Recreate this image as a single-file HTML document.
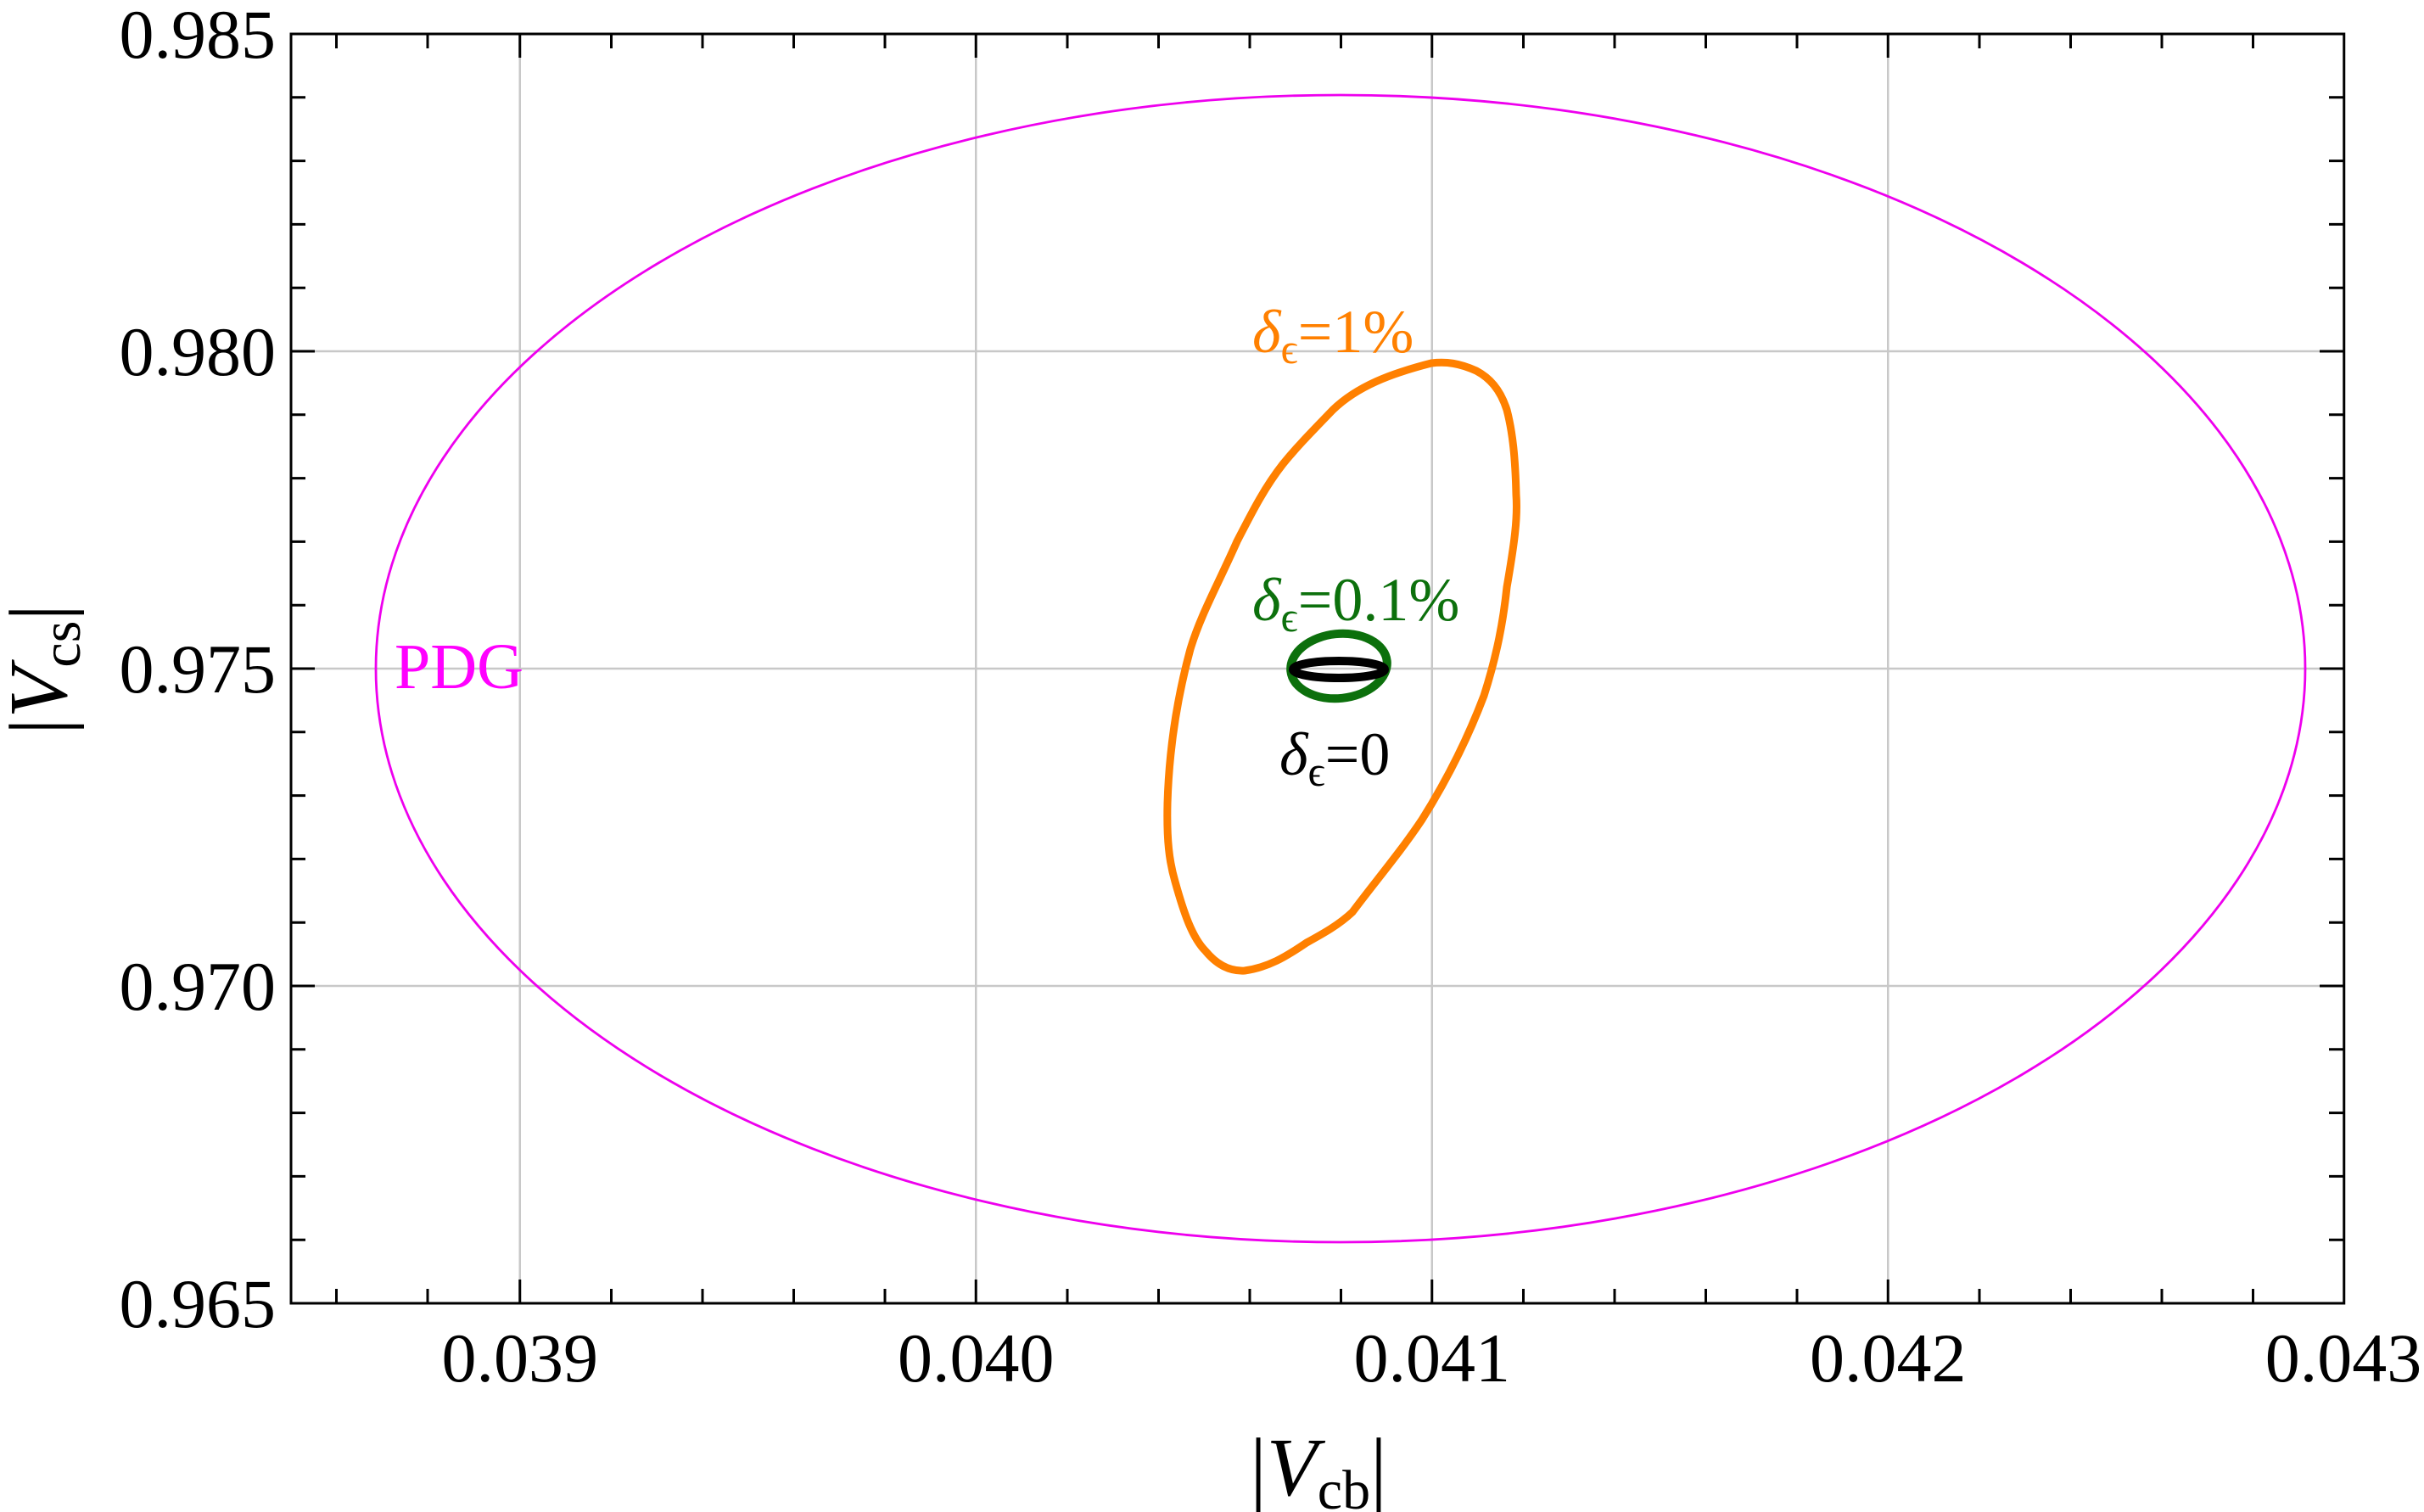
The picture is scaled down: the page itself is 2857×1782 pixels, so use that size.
<!DOCTYPE html>
<html><head><meta charset="utf-8"><style>
html,body{margin:0;padding:0;background:#fff;}
svg{display:block;}
text{font-family:"Liberation Serif",serif;}
</style></head><body>
<svg width="2857" height="1782" viewBox="0 0 2857 1782" xmlns="http://www.w3.org/2000/svg">
<rect width="2857" height="1782" fill="#fff"/>
<g stroke="#c8c8c8" stroke-width="2.5">
<path d="M612.75 40V1536M1150.25 40V1536M1687.75 40V1536M2225.25 40V1536"/>
<path d="M343 414H2762M343 788H2762M343 1162H2762"/>
</g>
<ellipse cx="1580" cy="788" rx="1137" ry="676" fill="none" stroke="#ee00ee" stroke-width="2.8"/>
<path d="M1687 428 C1640 440 1600 455 1571 483 C1545 510 1530 525 1512 547 C1490 575 1475 605 1458 638 C1435 690 1415 725 1403 765 C1388 820 1378 880 1376 947 C1375 990 1378 1015 1385 1039 C1395 1075 1405 1105 1421 1121 C1435 1138 1450 1145 1467 1144 C1495 1140 1515 1128 1540 1111 C1560 1100 1578 1090 1594 1075 C1620 1040 1650 1005 1676 966 C1705 920 1730 870 1749 820 C1765 770 1772 730 1776 692 C1785 640 1789 610 1787 583 C1786 540 1783 510 1776 483 C1768 458 1755 445 1740 437 C1720 428 1705 426 1687 428 Z" fill="none" stroke="#ff8000" stroke-width="9"/>
<ellipse cx="1578" cy="785" rx="57" ry="38" fill="none" stroke="#0c700c" stroke-width="10" transform="rotate(-6 1578 785)"/>
<ellipse cx="1578" cy="789" rx="54" ry="10" fill="none" stroke="#000" stroke-width="10"/>
<g stroke="#000" stroke-width="3" fill="none">
<rect x="343" y="40" width="2419.75" height="1496"/>
<path d="M612.75 1536v-28M1150.25 1536v-28M1687.75 1536v-28M2225.25 1536v-28M612.75 40v28M1150.25 40v28M1687.75 40v28M2225.25 40v28"/>
<path d="M396.5 1536v-17M504 1536v-17M720.5 1536v-17M828 1536v-17M935.5 1536v-17M1043 1536v-17M1258 1536v-17M1365.5 1536v-17M1473 1536v-17M1580.5 1536v-17M1795.5 1536v-17M1903 1536v-17M2010.5 1536v-17M2118 1536v-17M2333 1536v-17M2440.5 1536v-17M2548 1536v-17M2655.5 1536v-17"/>
<path d="M396.5 40v17M504 40v17M720.5 40v17M828 40v17M935.5 40v17M1043 40v17M1258 40v17M1365.5 40v17M1473 40v17M1580.5 40v17M1795.5 40v17M1903 40v17M2010.5 40v17M2118 40v17M2333 40v17M2440.5 40v17M2548 40v17M2655.5 40v17"/>
<path d="M343 414h28M343 788h28M343 1162h28M2762 414h-28M2762 788h-28M2762 1162h-28"/>
<path d="M343 114.8h17M343 189.6h17M343 264.4h17M343 339.2h17M343 488.8h17M343 563.6h17M343 638.4h17M343 713.2h17M343 862.8h17M343 937.6h17M343 1012.4h17M343 1087.2h17M343 1236.8h17M343 1311.6h17M343 1386.4h17M343 1461.2h17"/>
<path d="M2762 114.8h-17M2762 189.6h-17M2762 264.4h-17M2762 339.2h-17M2762 488.8h-17M2762 563.6h-17M2762 638.4h-17M2762 713.2h-17M2762 862.8h-17M2762 937.6h-17M2762 1012.4h-17M2762 1087.2h-17M2762 1236.8h-17M2762 1311.6h-17M2762 1386.4h-17M2762 1461.2h-17"/>
</g>
<g font-size="82" text-anchor="end" fill="#000">
<text x="325" y="68">0.985</text>
<text x="325" y="442">0.980</text>
<text x="325" y="816">0.975</text>
<text x="325" y="1190">0.970</text>
<text x="325" y="1564">0.965</text>
</g>
<g font-size="82" text-anchor="middle" fill="#000">
<text x="612.75" y="1628">0.039</text>
<text x="1150.25" y="1628">0.040</text>
<text x="1687.75" y="1628">0.041</text>
<text x="2225.25" y="1628">0.042</text>
<text x="2762" y="1628">0.043</text>
</g>
<text x="1554" y="1762" font-size="98" text-anchor="middle">|<tspan font-style="italic">V</tspan><tspan font-size="66" dy="16">cb</tspan><tspan dy="-16">|</tspan></text>
<text transform="translate(78,789) rotate(-90)" font-size="98" text-anchor="middle">|<tspan font-style="italic">V</tspan><tspan font-size="66" dy="16">cs</tspan><tspan dy="-16">|</tspan></text>
<text x="465" y="811" font-size="76" fill="#ff00ff">PDG</text>
<text x="1476" y="415" font-size="72" fill="#ff8000"><tspan font-style="italic">δ</tspan><tspan font-size="50" dy="13">ϵ</tspan><tspan dy="-13">=1%</tspan></text>
<text x="1476" y="731" font-size="72" fill="#0c700c"><tspan font-style="italic">δ</tspan><tspan font-size="50" dy="13">ϵ</tspan><tspan dy="-13">=0.1%</tspan></text>
<text x="1508" y="913" font-size="72" fill="#000"><tspan font-style="italic">δ</tspan><tspan font-size="50" dy="13">ϵ</tspan><tspan dy="-13">=0</tspan></text>
</svg>
</body></html>
